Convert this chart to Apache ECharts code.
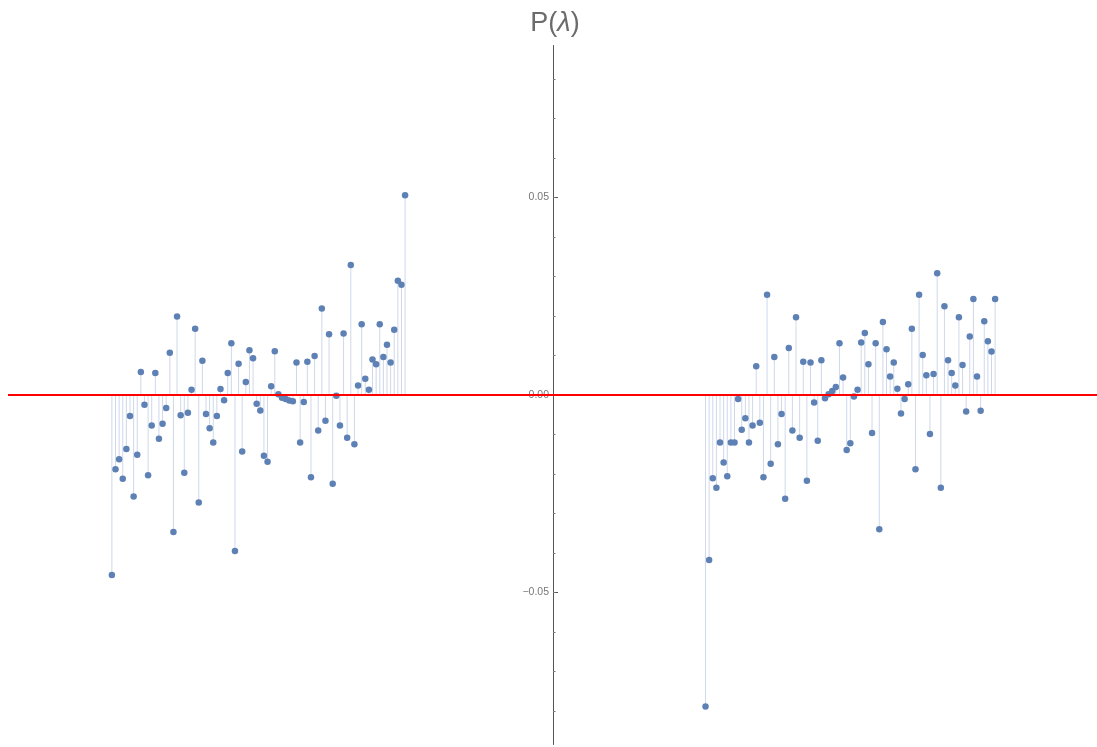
<!DOCTYPE html>
<html>
<head>
<meta charset="utf-8">
<script src="https://cdn.jsdelivr.net/npm/echarts@6/dist/echarts.min.js"></script>
<style>
html,body{margin:0;padding:0;background:#fff;}
#chart{width:1097px;height:747px;}
</style>
</head>
<body>
<div id="chart"></div>
<script>
// Left cluster (negative λ), first λ index and values
var leftStart = -122;
var leftValues = [
  -0.0456,-0.0188,-0.0163,-0.0212,-0.0137,-0.0053,-0.0257,-0.0151,0.0058,-0.0025,
  -0.0203,-0.0077,0.0056,-0.0111,-0.0073,-0.0033,0.0107,-0.0347,0.0199,-0.0051,
  -0.0197,-0.0045,0.0013,0.0168,-0.0272,0.0087,-0.0048,-0.0084,-0.0120,-0.0053,
  0.0015,-0.0013,0.0056,0.0131,-0.0395,0.0079,-0.0143,0.0033,0.0113,0.0093,
  -0.0022,-0.0039,-0.0154,-0.0169,0.0022,0.0111,0.0002,-0.0007,-0.0010,-0.0014,
  -0.0016,0.0082,-0.0120,-0.0018,0.0084,-0.0208,0.0099,-0.0090,0.0219,-0.0065,
  0.0154,-0.0225,-0.0002,-0.0077,0.0156,-0.0108,0.0329,-0.0125,0.0024,0.0179,
  0.0041,0.0013,0.0090,0.0078,0.0179,0.0096,0.0127,0.0082,0.0165,0.0289,
  0.0279,0.0506
];
// Right cluster (positive λ)
var rightStart = 42;
var rightValues = [
  -0.0789,-0.0418,-0.0211,-0.0235,-0.0120,-0.0171,-0.0206,-0.0120,-0.0120,-0.0010,
  -0.0088,-0.0059,-0.0120,-0.0077,0.0073,-0.0070,-0.0208,0.0254,-0.0174,0.0096,
  -0.0125,-0.0048,-0.0263,0.0119,-0.0090,0.0197,-0.0108,0.0084,-0.0217,0.0082,
  -0.0019,-0.0116,0.0088,-0.0008,0.0002,0.0010,0.0020,0.0131,0.0044,-0.0139,
  -0.0122,-0.0004,0.0013,0.0133,0.0157,0.0078,-0.0096,0.0131,-0.0340,0.0185,
  0.0116,0.0047,0.0082,0.0016,-0.0047,-0.0010,0.0027,0.0168,-0.0188,0.0254,
  0.0101,0.0050,-0.0099,0.0053,0.0308,-0.0235,0.0225,0.0088,0.0056,0.0024,
  0.0197,0.0076,-0.0042,0.0148,0.0243,0.0047,-0.0040,0.0187,0.0136,0.0110,
  0.0243
];
var majorTicks = [-0.05, 0, 0.05];
var minorTicks = [-0.08,-0.07,-0.06,-0.05,-0.04,-0.03,-0.02,-0.01,0,0.01,0.02,0.03,0.04,0.05,0.06,0.07,0.08];
var titleText = 'P(';
var titleSymbol = 'λ';

var points = [];
leftValues.forEach(function (v, i) { points.push([leftStart + i, v]); });
rightValues.forEach(function (v, i) { points.push([rightStart + i, v]); });

var Y_MIN = -0.0885, Y_MAX = 0.0885;
var FONT = 'Liberation Sans, Arial, sans-serif';
var chart = echarts.init(document.getElementById('chart'), null, {renderer: 'canvas'});
var gridBase = {top: 45.5, bottom: 2.5, outerBoundsMode: 'none', containLabel: false};
chart.setOption({
  animation: false,
  backgroundColor: '#ffffff',
  title: {
    text: '{n|' + titleText + '}{i|' + titleSymbol + '}{n|)}',
    left: 550,
    top: 5,
    textAlign: 'center',
    textStyle: {
      fontWeight: 'normal',
      rich: {
        n: {fontFamily: FONT, fontSize: 27, fontWeight: 'normal', color: '#6b6b6b'},
        i: {fontFamily: FONT, fontSize: 27, fontWeight: 'normal', color: '#6b6b6b', fontStyle: 'italic'}
      }
    }
  },
  grid: [
    Object.assign({}, gridBase, {left: 8, right: -2}),
    Object.assign({}, gridBase, {left: 553, right: 0}),
    Object.assign({}, gridBase, {left: 553, right: 0})
  ],
  xAxis: [
    {type: 'value', gridIndex: 0, min: -150.7, max: 150.7, show: false},
    {type: 'value', gridIndex: 1, min: 0, max: 1, show: false},
    {type: 'value', gridIndex: 2, min: 0, max: 1, show: false}
  ],
  yAxis: [
    {type: 'value', gridIndex: 0, min: Y_MIN, max: Y_MAX, show: false},
    {
      type: 'value', gridIndex: 1, min: Y_MIN, max: Y_MAX, position: 'left',
      splitLine: {show: false},
      axisLine: {show: true, onZero: false, lineStyle: {color: '#555', width: 1}},
      axisTick: {show: true, inside: true, length: 5, customValues: majorTicks, lineStyle: {color: '#555'}},
      axisLabel: {
        show: true,
        customValues: majorTicks,
        margin: 4,
        fontSize: 10.5,
        fontFamily: FONT,
        color: '#777',
        formatter: function (v) {
          var s = Math.abs(v).toFixed(2);
          return v < -1e-9 ? '\u2212' + s : s;
        }
      }
    },
    {
      type: 'value', gridIndex: 2, min: Y_MIN, max: Y_MAX, position: 'left',
      splitLine: {show: false},
      axisLine: {show: false, onZero: false},
      axisTick: {show: true, inside: true, length: 2.5, customValues: minorTicks, lineStyle: {color: '#777'}},
      axisLabel: {show: false}
    }
  ],
  series: [
    {
      type: 'bar',
      xAxisIndex: 0, yAxisIndex: 0,
      data: points,
      barWidth: 1,
      itemStyle: {color: '#cfd8ea'},
      silent: true,
      z: 2
    },
    {
      type: 'line',
      xAxisIndex: 0, yAxisIndex: 0,
      data: [],
      z: 3,
      markLine: {
        silent: true,
        symbol: 'none',
        label: {show: false},
        lineStyle: {color: '#ff0000', width: 2, type: 'solid'},
        data: [{yAxis: 0}]
      }
    },
    {
      type: 'scatter',
      xAxisIndex: 0, yAxisIndex: 0,
      data: points,
      symbolSize: 6.5,
      itemStyle: {color: '#5e81b5', opacity: 1},
      z: 4
    }
  ]
});
</script>
</body>
</html>
